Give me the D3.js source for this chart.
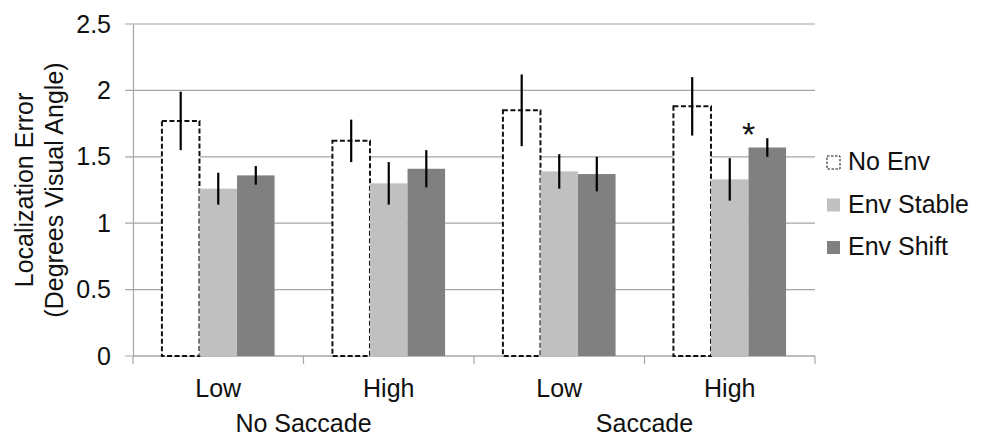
<!DOCTYPE html>
<html>
<head>
<meta charset="utf-8">
<script src="https://cdn.jsdelivr.net/npm/d3@7"></script>
<style>
  body { margin: 0; background: #fff; }
  svg { display: block; font-family: "Liberation Sans", Arial, sans-serif; }
</style>
</head>
<body>
<svg id="chart" width="981" height="445"></svg>
<script>
// data
const groups = ["No Saccade", "Saccade"];
const levels = ["Low", "High"];
const categories = ["NS-Low", "NS-High", "S-Low", "S-High"];
const series = ["No Env", "Env Stable", "Env Shift"];
const noEnv     = [1.77, 1.62, 1.85, 1.88];
const envStable = [1.26, 1.30, 1.39, 1.33];
const envShift  = [1.36, 1.41, 1.37, 1.57];
const errNoEnv     = [0.22, 0.16, 0.27, 0.22];
const errEnvStable = [0.12, 0.16, 0.13, 0.16];
const errEnvShift  = [0.07, 0.14, 0.13, 0.07];
const yTicks = [0, 0.5, 1, 1.5, 2, 2.5];
const yTickLabels = ["0", "0.5", "1", "1.5", "2", "2.5"];

const values = [noEnv, envStable, envShift];
const errors = [errNoEnv, errEnvStable, errEnvShift];

const margin = {top: 24, right: 166, bottom: 89, left: 133},
      width = 981 - margin.left - margin.right,
      height = 445 - margin.top - margin.bottom;

const svg = d3.select("#chart");
const g = svg.append("g").attr("transform", `translate(${margin.left},${margin.top})`);

const x0 = d3.scaleBand().domain(categories).range([0, width]).paddingInner(0).paddingOuter(0);
const x1 = d3.scaleBand().domain(series).range([0, x0.bandwidth()]).paddingInner(0).paddingOuter(0.77);
const y = d3.scaleLinear().domain([0, 2.5]).range([height, 0]);

const fillColor = d3.scaleOrdinal().domain(series).range(["#ffffff", "#c0c0c0", "#808080"]);

// gridlines
g.append("g")
  .selectAll("line")
  .data(yTicks)
  .join("line")
    .attr("x1", -8).attr("x2", width)
    .attr("y1", d => y(d)).attr("y2", d => y(d))
    .attr("stroke", "#a6a6a6").attr("stroke-width", 1.2);

// y axis
const yAxis = g.append("g")
  .call(d3.axisLeft(y).tickValues(yTicks).tickFormat((d, i) => yTickLabels[i]).tickSize(0).tickPadding(22));
yAxis.select(".domain").attr("stroke", "#a6a6a6").attr("stroke-width", 1.2);
yAxis.selectAll("text").attr("font-size", 25).attr("fill", "#111").attr("font-family", "Liberation Sans, Arial, sans-serif");

// x axis line + ticks at category boundaries
g.append("line").attr("x1", 0).attr("x2", width).attr("y1", height).attr("y2", height)
  .attr("stroke", "#a6a6a6").attr("stroke-width", 1.2);
g.append("g").selectAll("line")
  .data(categories.concat(["end"]))
  .join("line")
    .attr("x1", d => d === "end" ? width : x0(d))
    .attr("x2", d => d === "end" ? width : x0(d))
    .attr("y1", height).attr("y2", height + 8)
    .attr("stroke", "#a6a6a6").attr("stroke-width", 1.2);

// bars
const cat = g.append("g").selectAll("g")
  .data(categories)
  .join("g")
    .attr("transform", d => `translate(${x0(d)},0)`);

cat.selectAll("rect")
  .data((d, ci) => series.map((s, si) => ({s, v: values[si][ci], e: errors[si][ci]})))
  .join("rect")
    .attr("x", d => x1(d.s))
    .attr("width", x1.bandwidth())
    .attr("y", d => y(d.v))
    .attr("height", d => height - y(d.v))
    .attr("fill", d => fillColor(d.s))
    .attr("stroke", d => d.s === "No Env" ? "#111" : "none")
    .attr("stroke-width", 2)
    .attr("stroke-dasharray", d => d.s === "No Env" ? "5,2.5" : null);

// error bars
cat.selectAll("line.err")
  .data((d, ci) => series.map((s, si) => ({s, v: values[si][ci], e: errors[si][ci]})))
  .join("line")
    .attr("class", "err")
    .attr("x1", d => x1(d.s) + x1.bandwidth() / 2)
    .attr("x2", d => x1(d.s) + x1.bandwidth() / 2)
    .attr("y1", d => y(d.v + d.e))
    .attr("y2", d => y(d.v - d.e))
    .attr("stroke", "#000").attr("stroke-width", 2.2);

// significance asterisk
g.append("text")
  .attr("x", x0("S-High") + x1("Env Stable") + x1.bandwidth())
  .attr("y", y(envShift[3] + errEnvShift[3]) + 8)
  .attr("text-anchor", "middle")
  .attr("font-size", 34).attr("fill", "#111")
  .text("*");

// category labels
g.append("g").selectAll("text")
  .data(categories)
  .join("text")
    .attr("x", d => x0(d) + x0.bandwidth() / 2)
    .attr("y", height + 41)
    .attr("text-anchor", "middle")
    .attr("font-size", 25).attr("fill", "#111")
    .text((d, i) => levels[i % 2]);

g.append("g").selectAll("text")
  .data(groups)
  .join("text")
    .attr("x", (d, i) => x0(categories[i * 2 + 1]))
    .attr("y", height + 76)
    .attr("text-anchor", "middle")
    .attr("font-size", 25).attr("fill", "#111")
    .text(d => d);

// y axis title
const yt = svg.append("text")
  .attr("transform", `translate(24, ${margin.top + y(1.25)}) rotate(-90)`)
  .attr("text-anchor", "middle")
  .attr("font-size", 25).attr("fill", "#111");
yt.append("tspan").attr("x", 0).attr("dy", "0.35em").text("Localization Error");
yt.append("tspan").attr("x", 0).attr("dy", "1.2em").text("(Degrees Visual Angle)");

// legend
const legend = svg.append("g").attr("transform", `translate(${margin.left + width + 12}, 154)`);
const li = legend.selectAll("g")
  .data(series)
  .join("g")
    .attr("transform", (d, i) => `translate(0, ${i * 42.5})`);
li.append("rect")
  .attr("x", 0).attr("y", 2).attr("width", 13).attr("height", 13)
  .attr("fill", d => fillColor(d))
  .attr("stroke", d => d === "No Env" ? "#111" : "none")
  .attr("stroke-width", 1)
  .attr("stroke-dasharray", d => d === "No Env" ? "2.5,1.5" : null);
li.append("text")
  .attr("x", 21).attr("y", 16)
  .attr("font-size", 25).attr("fill", "#111")
  .text(d => d);
</script>
</body>
</html>
